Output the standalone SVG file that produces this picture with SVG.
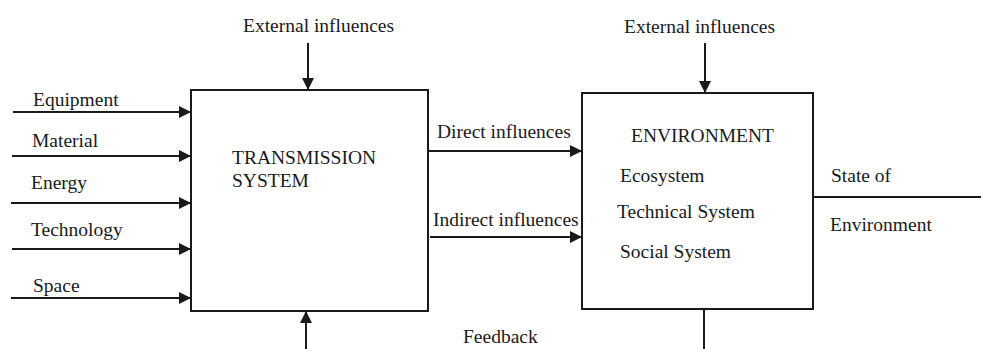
<svg xmlns="http://www.w3.org/2000/svg" width="981" height="349" viewBox="0 0 981 349">
  <style>
    text { font-family: "Liberation Serif", "Times New Roman", serif; font-size: 19.5px; fill: #1a1a1a; }
    .box { fill: #ffffff; stroke: #1a1a1a; stroke-width: 2; }
    .wire { stroke: #1a1a1a; stroke-width: 2; fill: none; }
  </style>
  <defs>
    <marker id="arrow" viewBox="0 0 10 10" refX="10" refY="5" markerWidth="12" markerHeight="12" markerUnits="userSpaceOnUse" orient="auto">
      <path d="M0,0 L10,5 L0,10 z" fill="#1a1a1a"/>
    </marker>
  </defs>
  <rect width="981" height="349" fill="#ffffff"/>

  <g id="transmission-system">
    <rect class="box" x="191" y="90" width="237" height="221"/>
    <text x="232" y="164">TRANSMISSION</text>
    <text x="232" y="187">SYSTEM</text>
  </g>

  <g id="environment">
    <rect class="box" x="582" y="93" width="231" height="216"/>
    <text x="631" y="142">ENVIRONMENT</text>
    <text x="620" y="182">Ecosystem</text>
    <text x="617" y="218">Technical System</text>
    <text x="620" y="258">Social System</text>
  </g>

  <g id="connectors">
    <!-- inputs into the transmission system -->
    <line class="wire" x1="13" y1="112" x2="191" y2="112" marker-end="url(#arrow)"/>
    <line class="wire" x1="12" y1="156" x2="191" y2="156" marker-end="url(#arrow)"/>
    <line class="wire" x1="11" y1="203" x2="191" y2="203" marker-end="url(#arrow)"/>
    <line class="wire" x1="12" y1="249" x2="191" y2="249" marker-end="url(#arrow)"/>
    <line class="wire" x1="11" y1="298" x2="191" y2="298" marker-end="url(#arrow)"/>
    <!-- external influences -->
    <line class="wire" x1="308" y1="43" x2="308" y2="90" marker-end="url(#arrow)"/>
    <line class="wire" x1="705" y1="43" x2="705" y2="93" marker-end="url(#arrow)"/>
    <!-- influences between the systems -->
    <line class="wire" x1="428" y1="151" x2="582" y2="151" marker-end="url(#arrow)"/>
    <line class="wire" x1="430" y1="237" x2="582" y2="237" marker-end="url(#arrow)"/>
    <!-- state output and feedback -->
    <line class="wire" x1="813" y1="197" x2="981" y2="197"/>
    <line class="wire" x1="704" y1="309" x2="704" y2="349"/>
    <line class="wire" x1="306" y1="349" x2="306" y2="311" marker-end="url(#arrow)"/>
  </g>

  <g id="labels">
    <text x="33" y="106">Equipment</text>
    <text x="32" y="147">Material</text>
    <text x="31" y="189">Energy</text>
    <text x="31" y="236">Technology</text>
    <text x="33" y="292">Space</text>
    <text x="243" y="32">External influences</text>
    <text x="624" y="33">External influences</text>
    <text x="437" y="138">Direct influences</text>
    <text x="433" y="226">Indirect influences</text>
    <text x="831" y="182">State of</text>
    <text x="830" y="231">Environment</text>
    <text x="463" y="343">Feedback</text>
  </g>
</svg>
